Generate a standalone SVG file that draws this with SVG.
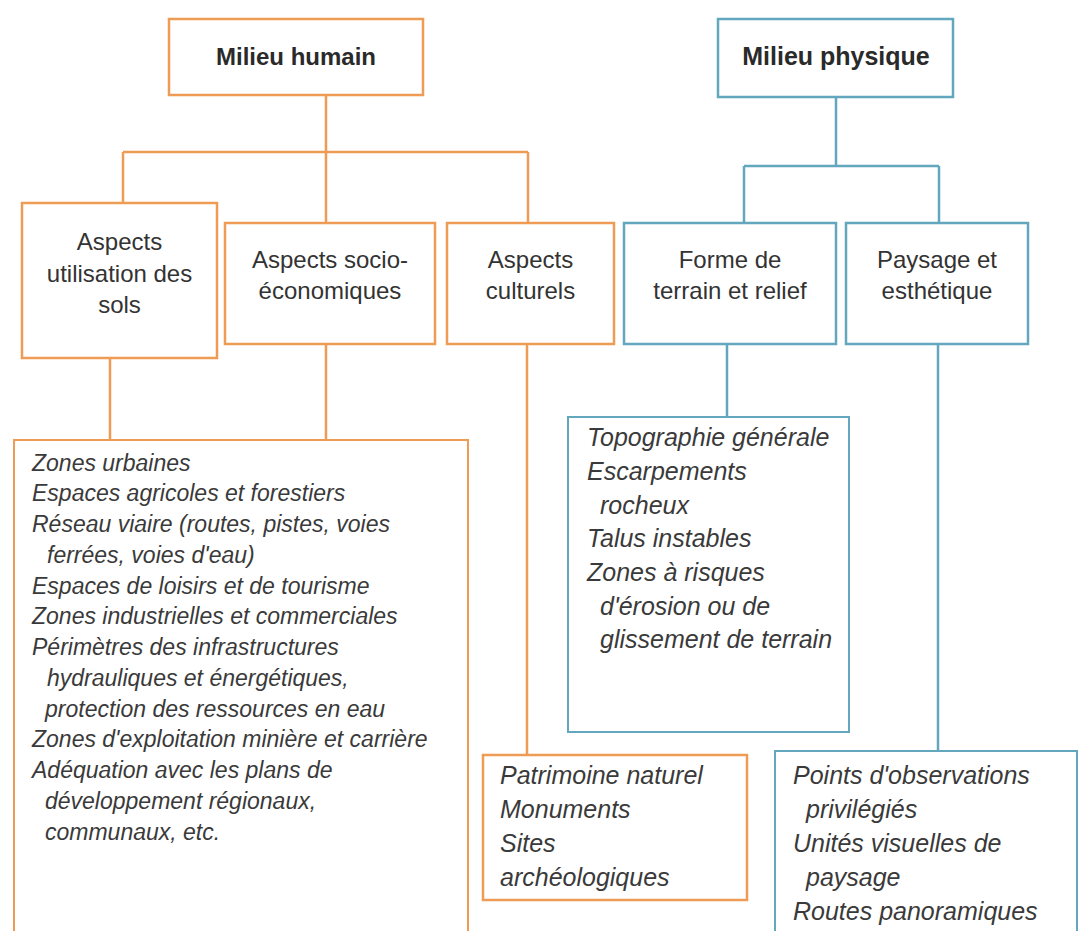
<svg xmlns="http://www.w3.org/2000/svg" width="1081" height="931" viewBox="0 0 1081 931">
<style>
  .o{fill:#ffffff;stroke:#ee9b55;stroke-width:2.5}
  .b{fill:#ffffff;stroke:#62a7bd;stroke-width:2.5}
  .lo{stroke:#ee9b55;stroke-width:2.5;fill:none}
  .lb{stroke:#62a7bd;stroke-width:2.5;fill:none}
  .t{font-family:"Liberation Sans",Arial,sans-serif;font-size:24px;fill:#333333;text-anchor:middle}
  .h{font-family:"Liberation Sans",Arial,sans-serif;font-size:24px;font-weight:bold;fill:#2a2a2a;text-anchor:middle}
  .i{font-family:"Liberation Sans",Arial,sans-serif;font-size:23px;font-style:italic;fill:#3a3a3a}
  .j{font-family:"Liberation Sans",Arial,sans-serif;font-size:25px;font-style:italic;fill:#3a3a3a}
</style>
<rect width="1081" height="931" fill="#ffffff"/>
<g id="connectors">
  <path class="lo" d="M326 95 V223 M123 152 H528 M123 152 V203 M528 152 V223"/>
  <path class="lo" d="M110 358 V440 M326 344 V440"/>
  <path class="lo" d="M527 344 V755"/>
  <path class="lb" d="M836 97 V166 M744 166 H939 M744 166 V223 M939 166 V223"/>
  <path class="lb" d="M727 344 V432"/>
  <path class="lb" d="M938 344 V751"/>
</g>
<g id="milieu-humain">
  <rect class="o" x="169" y="19" width="254" height="76"/>
  <text class="h" x="296" y="65">Milieu humain</text>
</g>
<g id="milieu-physique">
  <rect class="b" x="718" y="19" width="235" height="78"/>
  <text class="h" x="836" y="65" style="font-size:25px">Milieu physique</text>
</g>
<g id="utilisation-sols">
  <rect class="o" x="22" y="203" width="195" height="155"/>
  <text class="t" x="119.5" y="250">Aspects</text>
  <text class="t" x="119.5" y="282">utilisation des</text>
  <text class="t" x="119.5" y="313">sols</text>
</g>
<g id="socio-economiques">
  <rect class="o" x="225" y="223" width="210" height="121"/>
  <text class="t" x="330" y="268">Aspects socio-</text>
  <text class="t" x="330" y="299">économiques</text>
</g>
<g id="culturels">
  <rect class="o" x="447" y="223" width="167" height="121"/>
  <text class="t" x="530.5" y="268">Aspects</text>
  <text class="t" x="530.5" y="299">culturels</text>
</g>
<g id="forme-terrain">
  <rect class="b" x="624" y="223" width="212" height="121"/>
  <text class="t" x="730" y="268">Forme de</text>
  <text class="t" x="730" y="299">terrain et relief</text>
</g>
<g id="paysage">
  <rect class="b" x="846" y="223" width="182" height="121"/>
  <text class="t" x="937" y="268">Paysage et</text>
  <text class="t" x="937" y="299">esthétique</text>
</g>
<g id="liste-humain">
  <rect class="o" x="14" y="440" width="454" height="495" style="stroke-width:2"/>
  <text class="i" x="32" y="471">Zones urbaines</text>
  <text class="i" x="32" y="501">Espaces agricoles et forestiers</text>
  <text class="i" x="32" y="532">Réseau viaire (routes, pistes, voies</text>
  <text class="i" x="47" y="563">ferrées, voies d'eau)</text>
  <text class="i" x="32" y="594">Espaces de loisirs et de tourisme</text>
  <text class="i" x="32" y="624">Zones industrielles et commerciales</text>
  <text class="i" x="32" y="655">Périmètres des infrastructures</text>
  <text class="i" x="47" y="686">hydrauliques et énergétiques,</text>
  <text class="i" x="45" y="717">protection des ressources en eau</text>
  <text class="i" x="32" y="747">Zones d'exploitation minière et carrière</text>
  <text class="i" x="32" y="778">Adéquation avec les plans de</text>
  <text class="i" x="45" y="809">développement régionaux,</text>
  <text class="i" x="45" y="840">communaux, etc.</text>
</g>
<g id="liste-relief">
  <rect class="b" x="568" y="417" width="281" height="315" style="stroke-width:2"/>
  <text class="j" x="587" y="446">Topographie générale</text>
  <text class="j" x="587" y="480">Escarpements</text>
  <text class="j" x="600" y="514">rocheux</text>
  <text class="j" x="587" y="547">Talus instables</text>
  <text class="j" x="587" y="581">Zones à risques</text>
  <text class="j" x="600" y="615">d'érosion ou de</text>
  <text class="j" x="600" y="648">glissement de terrain</text>
</g>
<g id="liste-culturels">
  <rect class="o" x="483" y="755" width="264" height="145"/>
  <text class="j" x="500" y="784">Patrimoine naturel</text>
  <text class="j" x="500" y="818">Monuments</text>
  <text class="j" x="500" y="852">Sites</text>
  <text class="j" x="500" y="886">archéologiques</text>
</g>
<g id="liste-paysage">
  <rect class="b" x="775" y="751" width="302" height="200" style="stroke-width:2"/>
  <text class="j" x="793" y="784">Points d'observations</text>
  <text class="j" x="806" y="818">privilégiés</text>
  <text class="j" x="793" y="852">Unités visuelles de</text>
  <text class="j" x="806" y="886">paysage</text>
  <text class="j" x="793" y="920">Routes panoramiques</text>
</g>
</svg>
